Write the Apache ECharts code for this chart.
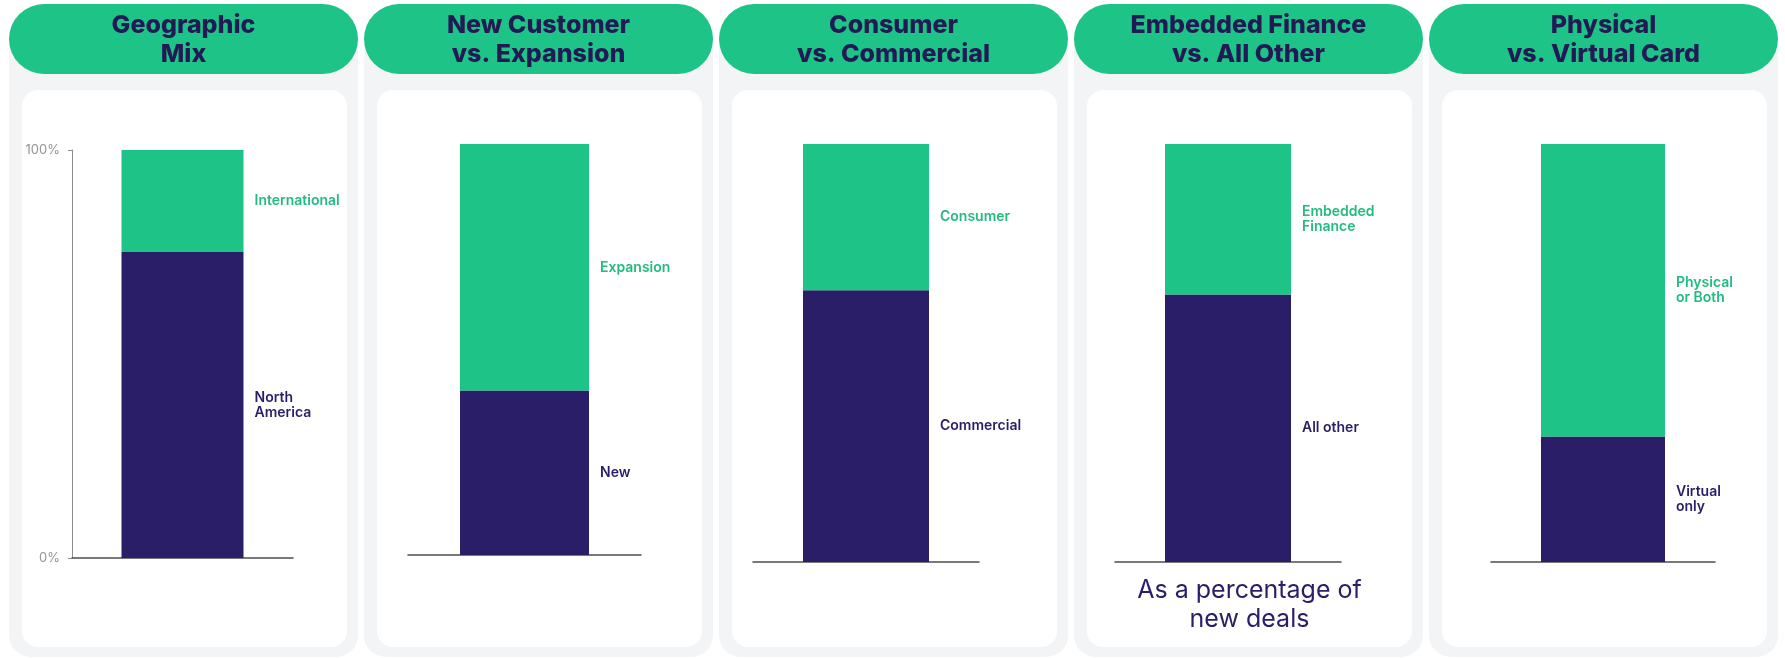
<!DOCTYPE html>
<html>
<head>
<meta charset="utf-8">
<script src="https://cdn.jsdelivr.net/npm/echarts@6/dist/echarts.min.js"></script>
<style>
  html, body { margin: 0; padding: 0; background: #ffffff; }
  #chart { width: 1785px; height: 658px; }
</style>
</head>
<body>
<div id="chart"></div>
<script>
// Panel titles (one stacked 100% bar per panel)
const panelTitles = [
  'Geographic\nMix',
  'New Customer\nvs. Expansion',
  'Consumer\nvs. Commercial',
  'Embedded Finance\nvs. All Other',
  'Physical\nvs. Virtual Card'
];
// Lower (navy) segment, share of new deals in %
const lowerValues = [75, 40, 65, 64, 30];
const lowerLabels = ['North\nAmerica', 'New', 'Commercial', 'All other', 'Virtual\nonly'];
// Upper (green) segment, share of new deals in %
const upperValues = [25, 60, 35, 36, 70];
const upperLabels = ['International', 'Expansion', 'Consumer', 'Embedded\nFinance', 'Physical\nor Both'];
// Value-axis tick labels shown on the first panel
const axisTicks = [0, 100];
const footnote = 'As a percentage of\nnew deals';

const GREEN = '#1ec487';
const NAVY = '#291e67';
const TITLE_NAVY = '#221a55';
const FONT = 'Inter, "Noto Sans", sans-serif';

// Panel geometry (pixels)
const panelX0 = 9, panelStep = 355, panelW = 349;
const plotBoxes = [
  { left: 72,   top: 150, width: 221, height: 408, bar: 122 },
  { left: 408,  top: 144, width: 233, height: 411, bar: 129 },
  { left: 753,  top: 144, width: 226, height: 418, bar: 126 },
  { left: 1115, top: 144, width: 226, height: 418, bar: 126 },
  { left: 1491, top: 144, width: 224, height: 418, bar: 124 }
];

const graphics = [];
panelTitles.forEach((t, i) => {
  const x = panelX0 + i * panelStep;
  // light grey panel
  graphics.push({ type: 'rect', z: -10, silent: true,
    shape: { x: x, y: 30, width: panelW, height: 627, r: 22 },
    style: { fill: '#f3f4f6' } });
  // white card
  graphics.push({ type: 'rect', z: -9, silent: true,
    shape: { x: x + 13, y: 90, width: panelW - 24, height: 557, r: 16 },
    style: { fill: '#ffffff' } });
  // green header pill
  graphics.push({ type: 'rect', z: -8, silent: true,
    shape: { x: x, y: 4, width: panelW, height: 70, r: 35 },
    style: { fill: GREEN } });
  // header text
  graphics.push({ type: 'text', z: 20, silent: true,
    x: x + panelW / 2, y: 40,
    style: { text: t, fill: TITLE_NAVY, font: '800 25px ' + FONT,
      align: 'center', verticalAlign: 'middle', lineHeight: 29 } });
});
// footnote under the fourth chart
graphics.push({ type: 'text', z: 20, silent: true,
  x: panelX0 + 3 * panelStep + panelW / 2 + 1, y: 605,
  style: { text: footnote, fill: NAVY, font: '400 25px ' + FONT,
    align: 'center', verticalAlign: 'middle', lineHeight: 29 } });

const grids = [], xAxes = [], yAxes = [], series = [];
plotBoxes.forEach((b, i) => {
  grids.push({ left: b.left, top: b.top, width: b.width, height: b.height, containLabel: false });
  xAxes.push({
    type: 'category', gridIndex: i, data: [panelTitles[i]],
    axisLine: { show: true, onZero: false, lineStyle: { color: '#4d4d4d', width: 1.5 } },
    axisTick: { show: false }, axisLabel: { show: false }
  });
  yAxes.push({
    type: 'value', gridIndex: i, min: axisTicks[0], max: axisTicks[1], interval: 100,
    show: i === 0,
    axisLine: { show: true, lineStyle: { color: '#8c8c8c', width: 1 } },
    axisTick: { show: true, length: 4, lineStyle: { color: '#8c8c8c' } },
    splitLine: { show: false },
    axisLabel: { formatter: '{value}%', color: '#949494', fontSize: 13,
      fontFamily: FONT, fontWeight: 'normal', margin: 12 }
  });
  const labelBase = { show: true, position: 'right', distance: 11, fontSize: 14,
    fontWeight: 600, fontFamily: FONT, lineHeight: 15, align: 'left' };
  series.push({
    type: 'bar', stack: 's' + i, xAxisIndex: i, yAxisIndex: i, barWidth: b.bar,
    data: [lowerValues[i]], itemStyle: { color: NAVY },
    label: Object.assign({}, labelBase, { color: NAVY, formatter: lowerLabels[i] })
  });
  series.push({
    type: 'bar', stack: 's' + i, xAxisIndex: i, yAxisIndex: i, barWidth: b.bar,
    data: [upperValues[i]], itemStyle: { color: GREEN },
    label: Object.assign({}, labelBase, { color: '#22bb80', formatter: upperLabels[i] })
  });
});

const chart = echarts.init(document.getElementById('chart'), null, { renderer: 'canvas' });
chart.setOption({
  animation: false,
  backgroundColor: '#ffffff',
  graphic: graphics,
  grid: grids,
  xAxis: xAxes,
  yAxis: yAxes,
  series: series
});
</script>
</body>
</html>
